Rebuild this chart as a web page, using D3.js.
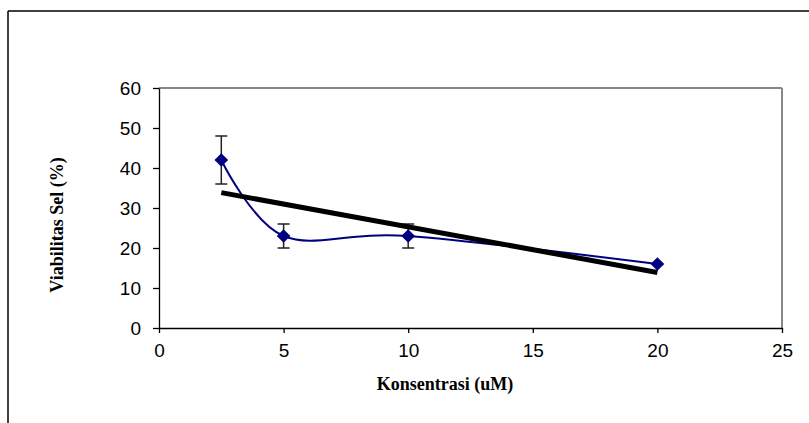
<!DOCTYPE html>
<html>
<head>
<meta charset="utf-8">
<script src="https://cdn.jsdelivr.net/npm/d3@7"></script>
<style>
  body { margin: 0; background: #fff; }
  .tick text { font-family: "Liberation Sans", Arial, sans-serif; font-size: 19px; fill: #000; }
  .title { font-family: "Liberation Serif", "Times New Roman", serif; font-size: 18px; font-weight: bold; }
</style>
</head>
<body>
<svg id="svg" width="809" height="423"></svg>
<script>
// concentration (uM) and cell viability (%)
const konsentrasi = [2.5, 5, 10, 20];
const viabilitas = [42, 23, 23, 16];
const errLow = [6, 3, 3, 0];
const errHigh = [6, 3, 3, 0];
const xTicks = [0, 5, 10, 15, 20, 25];
const yTicks = [0, 10, 20, 30, 40, 50, 60];

const svg = d3.select('#svg');
const plotLeft = 159, plotRight = 782, plotTop = 88, plotBottom = 328;

const x = d3.scaleLinear().domain([0, 25]).range([plotLeft, plotRight]);
const y = d3.scaleLinear().domain([0, 60]).range([plotBottom, plotTop]);

// outer frame
svg.append('line').attr('x1', 8).attr('y1', 11).attr('x2', 809).attr('y2', 11)
    .attr('stroke', '#000').attr('stroke-width', 1.5);
svg.append('line').attr('x1', 8).attr('y1', 11).attr('x2', 8).attr('y2', 423)
    .attr('stroke', '#000').attr('stroke-width', 1.5);

// plot area border (top and right in gray)
svg.append('line').attr('x1', plotLeft).attr('y1', plotTop).attr('x2', plotRight).attr('y2', plotTop)
    .attr('stroke', '#888').attr('stroke-width', 2);
svg.append('line').attr('x1', plotRight).attr('y1', plotTop).attr('x2', plotRight).attr('y2', plotBottom)
    .attr('stroke', '#888').attr('stroke-width', 2);

// axes
const xAxis = svg.append('g')
    .attr('transform', 'translate(0,' + plotBottom + ')')
    .call(d3.axisBottom(x).tickValues(xTicks).tickSize(5).tickPadding(11).tickSizeOuter(0));
const yAxis = svg.append('g')
    .attr('transform', 'translate(' + plotLeft + ',0)')
    .call(d3.axisLeft(y).tickValues(yTicks).tickSize(6).tickPadding(12).tickSizeOuter(0));
xAxis.selectAll('path, line').attr('stroke', '#000').attr('stroke-width', 1.3);
yAxis.selectAll('path, line').attr('stroke', '#000').attr('stroke-width', 1.3);
yAxis.selectAll('text').attr('dy', '0.36em');

// axis titles
svg.append('text').attr('class', 'title')
    .attr('x', 445).attr('y', 390)
    .attr('text-anchor', 'middle')
    .text('Konsentrasi (uM)');
svg.append('text').attr('class', 'title')
    .attr('transform', 'translate(63,225) rotate(-90)')
    .attr('text-anchor', 'middle')
    .text('Viabilitas Sel (%)');

// linear trend line (least squares)
let n = konsentrasi.length;
let mx = d3.mean(konsentrasi), my = d3.mean(viabilitas);
let sxy = 0, sxx = 0;
for (let i = 0; i < n; i++) {
    sxy += (konsentrasi[i] - mx) * (viabilitas[i] - my);
    sxx += (konsentrasi[i] - mx) * (konsentrasi[i] - mx);
}
let slope = sxy / sxx;
let intercept = my - slope * mx;
let x0 = d3.min(konsentrasi), x1 = d3.max(konsentrasi);

// error bars
const data = konsentrasi.map((k, i) => ({ k: k, v: viabilitas[i], lo: errLow[i], hi: errHigh[i] }));
const eb = svg.append('g').attr('stroke', '#222').attr('stroke-width', 1.5);
data.filter(d => d.lo > 0 || d.hi > 0).forEach(d => {
    eb.append('line').attr('x1', x(d.k)).attr('x2', x(d.k))
        .attr('y1', y(d.v - d.lo)).attr('y2', y(d.v + d.hi));
    eb.append('line').attr('x1', x(d.k) - 6).attr('x2', x(d.k) + 6)
        .attr('y1', y(d.v - d.lo)).attr('y2', y(d.v - d.lo));
    eb.append('line').attr('x1', x(d.k) - 6).attr('x2', x(d.k) + 6)
        .attr('y1', y(d.v + d.hi)).attr('y2', y(d.v + d.hi));
});

// smoothed data line
const line = d3.line().x(d => x(d.k)).y(d => y(d.v)).curve(d3.curveCardinal.tension(0));
svg.append('path').datum(data)
    .attr('d', line)
    .attr('fill', 'none')
    .attr('stroke', '#000080')
    .attr('stroke-width', 2);

svg.append('line')
    .attr('x1', x(x0)).attr('y1', y(intercept + slope * x0))
    .attr('x2', x(x1)).attr('y2', y(intercept + slope * x1))
    .attr('stroke', '#000').attr('stroke-width', 5);

// diamond markers
const diamond = d3.symbol().type(d3.symbolDiamond2).size(120);
svg.selectAll('.marker').data(data).enter().append('path')
    .attr('class', 'marker')
    .attr('transform', d => 'translate(' + x(d.k) + ',' + y(d.v) + ')')
    .attr('d', diamond)
    .attr('fill', '#000080');
</script>
</body>
</html>
